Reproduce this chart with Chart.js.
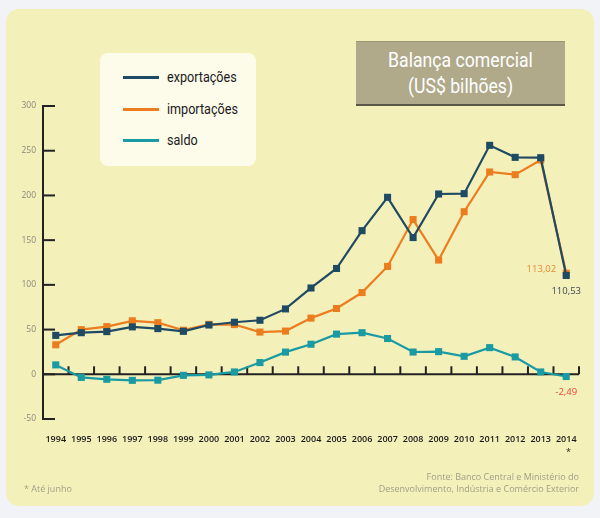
<!DOCTYPE html>
<html>
<head>
<meta charset="utf-8">
<script src="https://cdn.jsdelivr.net/npm/chart.js@4.4.1/dist/chart.umd.min.js"></script>
<style>
  html, body { margin: 0; padding: 0; background: #f2f3f7; }
  #wrap { position: relative; width: 600px; height: 518px; overflow: hidden; }
  #panel { position: absolute; left: 6px; top: 9px; width: 588px; height: 497px; background: #f4f0ba; border-radius: 13px; }
  #cv { position: absolute; left: 0; top: 0; }
  #title { position: absolute; left: 356px; top: 41px; width: 209px; height: 62px; background: #b0aa8b;
           border-top: 1px solid #9d977a; border-bottom: 2px solid #5a5648;
           color: #fff; font-family: Roboto, sans-serif; font-size: 21px;
           text-align: center; line-height: 26px; }
  #title div { transform: scaleX(0.84); transform-origin: 50% 50%; white-space: nowrap; }
  #title div:first-child { margin-top: 5px; }
  #legend { position: absolute; left: 100px; top: 53px; width: 156px; height: 113px; background: #fdfbea; border-radius: 8px; }
  .li { position: absolute; left: 23px; height: 20px; font-family: Roboto, sans-serif; font-size: 15px; color: #1a1a1a; }
  .li span.sw { position: absolute; left: 0; top: 9px; width: 36px; height: 3px; }
  .li span.tx { position: absolute; left: 44px; top: 0; line-height: 20px; white-space: nowrap; transform: scaleX(0.84); transform-origin: 0 50%; }
  .note { position: absolute; font-family: "Open Sans", sans-serif; font-size: 9px; color: #a09f88; white-space: nowrap; line-height: 12px; }
</style>
</head>
<body>
<div id="wrap">
  <div id="panel"></div>
  <canvas id="cv" width="600" height="518"></canvas>
  <div id="title"><div>Balança comercial</div><div>(US$ bilhões)</div></div>
  <div id="legend">
    <div class="li" style="top:14px"><span class="sw" style="background:#1f4a63"></span><span class="tx">exportações</span></div>
    <div class="li" style="top:46px"><span class="sw" style="background:#ec7d1f"></span><span class="tx">importações</span></div>
    <div class="li" style="top:77px"><span class="sw" style="background:#1a9aa3"></span><span class="tx">saldo</span></div>
  </div>
  <div class="note" style="left:566px; top:446px; color:#222; font-size:9px;">*</div>
  <div class="note" style="left:24px; top:483px;">* Até junho</div>
  <div class="note" style="right:21px; top:471px; text-align:right;">Fonte: Banco Central e Ministério do<br>Desenvolvimento, Indústria e Comércio Exterior</div>
</div>
<script>
const years = ["1994","1995","1996","1997","1998","1999","2000","2001","2002","2003","2004","2005","2006","2007","2008","2009","2010","2011","2012","2013","2014"];
const exportacoes = [43.5, 46.5, 47.7, 53.0, 51.1, 48.0, 55.1, 58.2, 60.4, 73.1, 96.5, 118.3, 160.6, 197.9, 152.9, 201.6, 202.0, 256.0, 242.6, 242.2, 110.53];
const importacoes = [33.0, 49.9, 53.3, 59.8, 57.7, 49.3, 55.8, 55.6, 47.2, 48.3, 62.8, 73.6, 91.4, 120.6, 173.0, 127.7, 181.8, 226.2, 223.2, 239.6, 113.02];
const saldo = [10.5, -3.5, -5.6, -6.8, -6.6, -1.2, -0.7, 2.6, 13.1, 24.8, 33.6, 44.9, 46.5, 40.0, 24.9, 25.3, 20.1, 29.8, 19.4, 2.6, -2.49];
const yTicks = [-50, 0, 50, 100, 150, 200, 250, 300];

const fmt = v => v.toFixed(2).replace('.', ',');

const axesPlugin = {
  id: 'axesPlugin',
  beforeDatasetsDraw(chart) {
    const ctx = chart.ctx, ca = chart.chartArea;
    const xs = chart.scales.x, ys = chart.scales.y;
    ctx.save();
    ctx.strokeStyle = '#222';
    ctx.lineWidth = 2;
    yTicks.forEach(v => {
      const py = ys.getPixelForValue(v);
      ctx.beginPath(); ctx.moveTo(ca.left, py); ctx.lineTo(ca.left + 12, py); ctx.stroke();
    });
    const y0 = ys.getPixelForValue(0);
    ctx.beginPath(); ctx.moveTo(ca.left, y0); ctx.lineTo(ca.right, y0); ctx.stroke();
    const half = (xs.getPixelForValue(1) - xs.getPixelForValue(0)) / 2;
    for (let i = 0; i < years.length; i++) {
      const px = xs.getPixelForValue(i) + half;
      ctx.beginPath(); ctx.moveTo(px, y0); ctx.lineTo(px, y0 - 8); ctx.stroke();
    }
    ctx.restore();
  },
  afterDatasetsDraw(chart) {
    const ctx = chart.ctx;
    const last = years.length - 1;
    const pe = chart.getDatasetMeta(0).data[last];
    const pi = chart.getDatasetMeta(1).data[last];
    const ps = chart.getDatasetMeta(2).data[last];
    ctx.save();
    ctx.font = '9.5px "Open Sans", sans-serif';
    ctx.textBaseline = 'middle';
    ctx.textAlign = 'right';
    ctx.fillStyle = '#e98a35';
    ctx.fillText(fmt(importacoes[last]), pi.x - 10, pi.y - 4);
    ctx.textAlign = 'center';
    ctx.fillStyle = '#3b4652';
    ctx.fillText(fmt(exportacoes[last]), pe.x, pe.y + 16);
    ctx.fillStyle = '#e8443a';
    ctx.fillText(fmt(saldo[last]), ps.x, ps.y + 16);
    ctx.restore();
  }
};

const common = { pointStyle: 'rect', pointRadius: 5, pointHoverRadius: 5, pointBorderWidth: 0, borderWidth: 2.2, tension: 0 };

new Chart(document.getElementById('cv'), {
  type: 'line',
  data: {
    labels: years,
    datasets: [
      Object.assign({ label: 'exportações', data: exportacoes, borderColor: '#1f4a63', backgroundColor: '#1f4a63' }, common),
      Object.assign({ label: 'importações', data: importacoes, borderColor: '#ec7d1f', backgroundColor: '#ec7d1f' }, common),
      Object.assign({ label: 'saldo', data: saldo, borderColor: '#1a9aa3', backgroundColor: '#1a9aa3' }, common)
    ]
  },
  options: {
    responsive: false,
    animation: false,
    devicePixelRatio: 1,
    layout: { padding: { top: 106, right: 21, left: 0, bottom: 0 } },
    plugins: { legend: { display: false }, tooltip: { enabled: false } },
    scales: {
      x: {
        type: 'category',
        offset: true,
        grid: { display: false, drawTicks: false },
        border: { display: false },
        ticks: { padding: 15, maxRotation: 0, autoSkip: false, color: '#1a1a1a',
                 font: { family: '"Open Sans", sans-serif', size: 9, weight: '600' } },
        afterFit: s => { s.height = 99; }
      },
      y: {
        min: -50, max: 300,
        afterBuildTicks: s => { s.ticks = yTicks.map(v => ({ value: v })); },
        grid: { display: false, drawTicks: false },
        border: { display: true, color: '#222', width: 2 },
        ticks: { padding: 7, color: '#8a897c', font: { family: '"Open Sans", sans-serif', size: 8.5 } },
        afterFit: s => { s.width = 43; }
      }
    }
  },
  plugins: [axesPlugin]
});
</script>
</body>
</html>
